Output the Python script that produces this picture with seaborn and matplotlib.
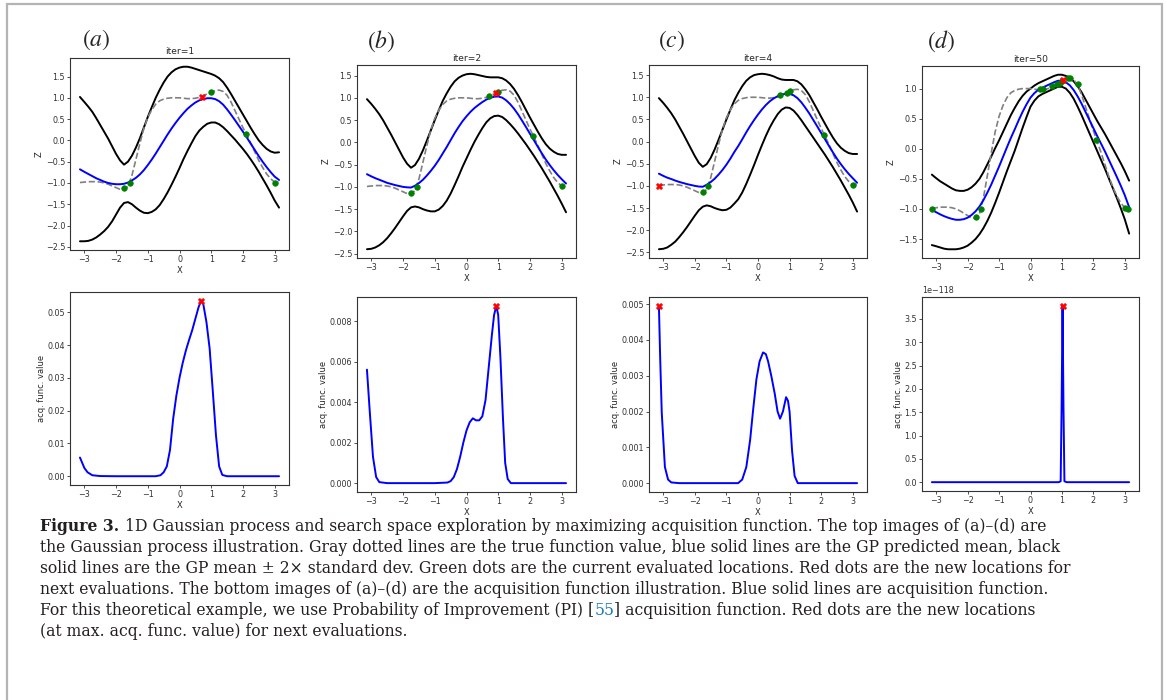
import matplotlib
matplotlib.use("Agg")
import matplotlib.pyplot as plt
import seaborn as sns
from matplotlib.patches import Rectangle
from matplotlib.ticker import MultipleLocator

# ---------------------------------------------------------------- data
# common x grid of the GP panels
x_grid = [-3.14, -3.0, -2.875, -2.75, -2.625, -2.5, -2.375, -2.25, -2.125,
          -2.0, -1.875, -1.75, -1.625, -1.5, -1.375, -1.25, -1.125, -1.0,
          -0.875, -0.75, -0.625, -0.5, -0.375, -0.25, -0.125, 0.0, 0.125,
          0.25, 0.375, 0.5, 0.625, 0.75, 0.875, 1.0, 1.125, 1.25, 1.375, 1.5,
          1.625, 1.75, 1.875, 2.0, 2.125, 2.25, 2.375, 2.5, 2.625, 2.75,
          2.875, 3.0, 3.14]

# true objective (gray dashed)
true_f = [-0.99, -0.98, -0.97, -0.97, -0.97, -0.98, -1.0, -1.03, -1.07, -1.11,
          -1.15, -1.16, -1.08, -0.82, -0.45, -0.07, 0.28, 0.54, 0.72, 0.85,
          0.93, 0.97, 0.99, 1.0, 1.0, 1.0, 0.99, 0.98, 0.98, 0.99, 1.01, 1.05,
          1.09, 1.13, 1.17, 1.18, 1.15, 1.06, 0.9, 0.7, 0.5, 0.3, 0.12, -0.07,
          -0.27, -0.47, -0.64, -0.79, -0.9, -0.98, -0.97]

# iter=1 : posterior mean and mean +/- 2 std
mean_1 = [-0.68, -0.74, -0.79, -0.84, -0.89, -0.93, -0.97, -1.0, -1.02, -1.03,
          -1.03, -1.02, -0.99, -0.94, -0.88, -0.8, -0.7, -0.58, -0.45, -0.31,
          -0.16, -0.01, 0.14, 0.28, 0.41, 0.53, 0.64, 0.74, 0.82, 0.89, 0.94,
          0.97, 0.99, 0.99, 0.97, 0.92, 0.84, 0.73, 0.605, 0.475, 0.34, 0.205,
          0.065, -0.08, -0.225, -0.37, -0.505, -0.63, -0.745, -0.85, -0.93]
upper_1 = [1.02, 0.9, 0.79, 0.67, 0.52, 0.36, 0.2, 0.04, -0.14, -0.32, -0.47,
           -0.57, -0.5, -0.36, -0.17, 0.05, 0.3, 0.55, 0.78, 1.0, 1.19, 1.36,
           1.5, 1.6, 1.67, 1.71, 1.73, 1.73, 1.71, 1.68, 1.65, 1.62, 1.59,
           1.56, 1.52, 1.46, 1.37, 1.24, 1.09, 0.93, 0.77, 0.61, 0.45, 0.29,
           0.14, 0.0, -0.11, -0.2, -0.26, -0.29, -0.28]
lower_1 = [-2.37, -2.37, -2.36, -2.33, -2.28, -2.21, -2.13, -2.03, -1.9, -1.74,
           -1.58, -1.47, -1.45, -1.5, -1.58, -1.65, -1.7, -1.71, -1.68, -1.62,
           -1.52, -1.38, -1.22, -1.04, -0.85, -0.65, -0.44, -0.25, -0.07, 0.1,
           0.23, 0.32, 0.39, 0.42, 0.42, 0.38, 0.31, 0.22, 0.12, 0.02, -0.09,
           -0.2, -0.32, -0.45, -0.59, -0.74, -0.9, -1.06, -1.23, -1.41, -1.58]

# iter=2
mean_2 = [-0.715, -0.765, -0.805, -0.84, -0.875, -0.91, -0.935, -0.96, -0.98,
          -1.0, -1.01, -1.015, -0.975, -0.915, -0.84, -0.745, -0.64, -0.525,
          -0.395, -0.25, -0.105, 0.05, 0.205, 0.345, 0.475, 0.585, 0.685,
          0.77, 0.84, 0.905, 0.96, 1.0, 1.025, 1.03, 1.005, 0.945, 0.86,
          0.755, 0.63, 0.49, 0.345, 0.195, 0.05, -0.1, -0.245, -0.385, -0.51,
          -0.625, -0.73, -0.825, -0.925]
upper_2 = [0.97, 0.86, 0.75, 0.63, 0.49, 0.33, 0.17, 0.0, -0.17, -0.34, -0.48,
           -0.57, -0.51, -0.37, -0.18, 0.04, 0.27, 0.5, 0.72, 0.93, 1.1, 1.25,
           1.37, 1.45, 1.5, 1.53, 1.54, 1.53, 1.51, 1.49, 1.47, 1.46, 1.46,
           1.46, 1.44, 1.39, 1.31, 1.2, 1.06, 0.9, 0.73, 0.56, 0.4, 0.24, 0.09,
           -0.04, -0.14, -0.21, -0.26, -0.28, -0.28]
lower_2 = [-2.4, -2.39, -2.36, -2.31, -2.24, -2.15, -2.04, -1.92, -1.79, -1.66,
           -1.54, -1.46, -1.44, -1.46, -1.5, -1.53, -1.55, -1.55, -1.51, -1.43,
           -1.31, -1.15, -0.96, -0.76, -0.55, -0.36, -0.17, 0.01, 0.17, 0.32,
           0.45, 0.54, 0.59, 0.6, 0.57, 0.5, 0.41, 0.31, 0.2, 0.08, -0.04,
           -0.17, -0.3, -0.44, -0.58, -0.73, -0.88, -1.04, -1.2, -1.37, -1.57]

# iter=4
mean_4 = [-0.725, -0.775, -0.815, -0.845, -0.88, -0.91, -0.935, -0.96, -0.98,
          -1.0, -1.015, -1.02, -0.975, -0.915, -0.84, -0.745, -0.64, -0.52,
          -0.385, -0.235, -0.1, 0.05, 0.205, 0.35, 0.485, 0.61, 0.725, 0.825,
          0.91, 0.975, 1.025, 1.06, 1.08, 1.075, 1.045, 0.98, 0.885, 0.765,
          0.635, 0.49, 0.345, 0.195, 0.05, -0.1, -0.245, -0.385, -0.51,
          -0.625, -0.73, -0.825, -0.93]
upper_4 = [0.98, 0.87, 0.76, 0.64, 0.5, 0.34, 0.18, 0.01, -0.16, -0.33, -0.48,
           -0.57, -0.51, -0.37, -0.18, 0.04, 0.27, 0.5, 0.72, 0.93, 1.1, 1.25,
           1.37, 1.45, 1.5, 1.52, 1.53, 1.52, 1.5, 1.47, 1.43, 1.4, 1.39, 1.39,
           1.39, 1.36, 1.29, 1.18, 1.05, 0.89, 0.73, 0.56, 0.4, 0.24, 0.09,
           -0.04, -0.14, -0.21, -0.26, -0.28, -0.28]
lower_4 = [-2.43, -2.42, -2.39, -2.33, -2.26, -2.16, -2.05, -1.93, -1.8, -1.67,
           -1.55, -1.47, -1.44, -1.46, -1.5, -1.53, -1.55, -1.54, -1.49, -1.4,
           -1.3, -1.15, -0.96, -0.75, -0.53, -0.3, -0.08, 0.13, 0.32, 0.48,
           0.62, 0.72, 0.77, 0.76, 0.7, 0.6, 0.48, 0.35, 0.22, 0.09, -0.04,
           -0.17, -0.3, -0.44, -0.58, -0.73, -0.88, -1.04, -1.2, -1.37, -1.58]

# iter=50
mean_50 = [-1.015, -1.055, -1.09, -1.12, -1.145, -1.165, -1.18, -1.18, -1.17,
           -1.145, -1.1, -1.04, -0.96, -0.855, -0.73, -0.595, -0.445, -0.295,
           -0.135, 0.025, 0.18, 0.325, 0.475, 0.615, 0.74, 0.85, 0.925, 0.98,
           1.015, 1.045, 1.075, 1.105, 1.13, 1.13, 1.105, 1.055, 0.975, 0.87,
           0.75, 0.615, 0.48, 0.345, 0.21, 0.08, -0.05, -0.19, -0.33, -0.47,
           -0.615, -0.77, -0.97]
upper_50 = [-0.43, -0.49, -0.54, -0.58, -0.62, -0.66, -0.69, -0.7, -0.7, -0.68,
            -0.64, -0.58, -0.5, -0.39, -0.26, -0.13, 0.01, 0.14, 0.28, 0.42,
            0.56, 0.68, 0.79, 0.88, 0.95, 1.0, 1.05, 1.09, 1.12, 1.15, 1.18,
            1.21, 1.23, 1.23, 1.21, 1.18, 1.12, 1.04, 0.94, 0.82, 0.7, 0.58,
            0.46, 0.35, 0.24, 0.12, 0.0, -0.12, -0.24, -0.37, -0.53]
lower_50 = [-1.6, -1.62, -1.64, -1.66, -1.67, -1.67, -1.67, -1.66, -1.64,
            -1.61, -1.56, -1.5, -1.42, -1.32, -1.2, -1.06, -0.9, -0.73, -0.55,
            -0.37, -0.2, -0.03, 0.16, 0.35, 0.53, 0.7, 0.8, 0.87, 0.91, 0.94,
            0.97, 1.0, 1.03, 1.03, 1.0, 0.93, 0.83, 0.7, 0.56, 0.41, 0.26,
            0.11, -0.04, -0.19, -0.34, -0.5, -0.66, -0.82, -0.99, -1.17, -1.41]

# evaluated locations (green) and next location (red)
obs_x_1 = [-1.75, -1.57, 1.0, 2.1, 3.0]
obs_y_1 = [-1.13, -1.0, 1.13, 0.15, -0.99]
obs_x_2 = [-1.75, -1.57, 0.7, 1.0, 2.1, 3.0]
obs_y_2 = [-1.13, -1.0, 1.04, 1.13, 0.15, -0.99]
obs_x_4 = [-1.75, -1.57, 0.7, 0.93, 1.0, 2.1, 3.0]
obs_y_4 = [-1.13, -1.0, 1.04, 1.1, 1.13, 0.15, -0.99]
obs_x_50 = [-3.14, -1.75, -1.57, 0.3, 0.4, 0.7, 0.85, 0.93, 1.0, 1.2, 1.25,
            1.5, 2.1, 3.0, 3.1]
obs_y_50 = [-1.0, -1.13, -1.0, 0.99, 0.99, 1.04, 1.07, 1.1, 1.13, 1.17, 1.17,
            1.08, 0.15, -0.99, -1.0]
next_x = [0.7, 0.93, -3.14, 1.02]
next_z = [1.03, 1.1, -1.0, 1.15]

# acquisition function (probability of improvement)
acq_x_1 = [-3.14, -3.0, -2.9, -2.75, -2.5, -2.0, -1.5, -1.0, -0.75, -0.6, -0.5,
           -0.4, -0.3, -0.2, -0.1, 0.0, 0.1, 0.2, 0.3, 0.4, 0.5, 0.6, 0.68,
           0.75, 0.85, 0.95, 1.05, 1.15, 1.25, 1.35, 1.5, 2.0, 2.5, 3.0, 3.14]
acq_1 = [0.0057, 0.0025, 0.0012, 0.0003, 0.00005, 0.0, 0.0, 0.0, 0.0, 0.0003,
         0.0012, 0.003, 0.008, 0.0175, 0.0245, 0.030, 0.0345, 0.0383, 0.0415,
         0.0445, 0.048, 0.0515, 0.0535, 0.0525, 0.047, 0.039, 0.026, 0.0125,
         0.003, 0.0004, 0.0, 0.0, 0.0, 0.0, 0.0]
acq_x_2 = [-3.14, -3.05, -2.95, -2.85, -2.75, -2.5, -2.0, -1.5, -1.0, -0.6,
           -0.5, -0.4, -0.3, -0.2, -0.1, 0.0, 0.1, 0.2, 0.3, 0.4, 0.5, 0.6,
           0.7, 0.8, 0.87, 0.94, 1.0, 1.07, 1.15, 1.22, 1.3, 1.4, 2.0, 2.5,
           3.0, 3.14]
acq_2 = [0.0056, 0.0035, 0.0013, 0.0003, 0.00005, 0.0, 0.0, 0.0, 0.0, 0.00003,
         0.0001, 0.0003, 0.0007, 0.0013, 0.002, 0.0026, 0.003, 0.0032, 0.0031,
         0.0031, 0.0033, 0.0041, 0.0057, 0.0073, 0.0083, 0.00875, 0.0083,
         0.0062, 0.0032, 0.001, 0.0002, 0.0, 0.0, 0.0, 0.0, 0.0]
acq_x_4 = [-3.14, -3.1, -3.05, -2.95, -2.85, -2.75, -2.5, -2.0, -1.5, -1.0,
           -0.63, -0.5, -0.37, -0.25, -0.16, -0.05, 0.05, 0.16, 0.25, 0.32,
           0.42, 0.53, 0.62, 0.7, 0.79, 0.89, 0.95, 1.0, 1.08, 1.16, 1.26, 1.4,
           2.0, 2.5, 3.0, 3.14]
acq_4 = [0.00495, 0.0035, 0.00197, 0.00045, 0.0001, 0.00002, 0.0, 0.0, 0.0,
         0.0, 0.0, 0.0001, 0.00045, 0.0012, 0.002, 0.0029, 0.0034, 0.00365,
         0.0036, 0.0034, 0.003, 0.0025, 0.002, 0.0018, 0.002, 0.0024, 0.0023,
         0.002, 0.0009, 0.0002, 0.0, 0.0, 0.0, 0.0, 0.0, 0.0]
acq_x_50 = [-3.14, -2.0, -1.0, 0.0, 0.9, 0.96, 0.99, 1.02, 1.05, 1.08, 1.15,
            2.0, 3.14]
acq_50 = [0.0, 0.0, 0.0, 0.0, 0.0, 0.02e-118, 1.6e-118, 3.78e-118, 1.6e-118,
          0.02e-118, 0.0, 0.0, 0.0]
next_acq = [0.0535, 0.00875, 0.00495, 3.78e-118]
next_acq_x = [0.68, 0.94, -3.14, 1.02]

iters = ["iter=1", "iter=2", "iter=4", "iter=50"]

# ---------------------------------------------------------------- style
sns.set_theme(style="ticks")
plt.rcParams.update({
    "font.family": ["DejaVu Sans"],
    "axes.edgecolor": "#333333",
    "axes.linewidth": 0.8,
    "xtick.labelsize": 5.8,
    "ytick.labelsize": 5.8,
    "xtick.major.size": 2.0,
    "ytick.major.size": 2.0,
    "xtick.major.width": 0.6,
    "ytick.major.width": 0.6,
    "xtick.major.pad": 1.5,
    "ytick.major.pad": 1.5,
    "xtick.color": "#333333",
    "ytick.color": "#333333",
    "axes.labelsize": 6.0,
    "axes.labelpad": 1.2,
    "axes.titlesize": 6.6,
    "axes.titlepad": 3,
    "mathtext.fontset": "stix",
})

W, H = 1167, 700
fig = plt.figure(figsize=(W / 100, H / 100), dpi=100)


def px_axes(left, top, right, bottom):
    return fig.add_axes([left / W, 1 - bottom / H, (right - left) / W,
                         (bottom - top) / H])


top_boxes = [(70, 58, 289, 250), (357, 65, 576, 258), (649, 65, 867, 258),
             (922, 66, 1139, 258)]
bot_boxes = [(70, 292, 289, 485), (357, 297, 576, 492), (649, 297, 867, 492),
             (922, 297, 1139, 491)]
tag_pos = [(96, 40), (381, 41), (672, 41), (941, 41)]

means = [mean_1, mean_2, mean_4, mean_50]
uppers = [upper_1, upper_2, upper_4, upper_50]
lowers = [lower_1, lower_2, lower_4, lower_50]
obs_xs = [obs_x_1, obs_x_2, obs_x_4, obs_x_50]
obs_ys = [obs_y_1, obs_y_2, obs_y_4, obs_y_50]
acq_xs = [acq_x_1, acq_x_2, acq_x_4, acq_x_50]
acqs = [acq_1, acq_2, acq_4, acq_50]
acq_steps = [0.01, 0.002, 0.001, 0.5e-118]

LW = 1.4
for i in range(4):
    # --- GP posterior
    ax = px_axes(*top_boxes[i])
    sns.lineplot(x=x_grid, y=uppers[i], ax=ax, color="black", linewidth=LW,
                 estimator=None, sort=False)
    sns.lineplot(x=x_grid, y=lowers[i], ax=ax, color="black", linewidth=LW,
                 estimator=None, sort=False)
    sns.lineplot(x=x_grid, y=true_f, ax=ax, color="gray", linewidth=1.2,
                 linestyle="--", estimator=None, sort=False)
    sns.lineplot(x=x_grid, y=means[i], ax=ax, color="blue", linewidth=LW,
                 estimator=None, sort=False)
    sns.scatterplot(x=obs_xs[i], y=obs_ys[i], ax=ax, color="green", s=16,
                    edgecolor="green", linewidth=0.5, zorder=5)
    sns.scatterplot(x=[next_x[i]], y=[next_z[i]], ax=ax, color="red",
                    marker="X", s=22, edgecolor="red", linewidth=0.3, zorder=6)
    ax.set_title(iters[i])
    ax.set_xlabel("X")
    ax.set_ylabel("Z")
    ax.xaxis.set_major_locator(MultipleLocator(1))
    ax.yaxis.set_major_locator(MultipleLocator(0.5))
    fig.text(tag_pos[i][0] / W, 1 - tag_pos[i][1] / H,
             r"$(\mathit{" + "abcd"[i] + r"})$", fontsize=17,
             ha="center", va="center")

    # --- acquisition function
    bx = px_axes(*bot_boxes[i])
    sns.lineplot(x=acq_xs[i], y=acqs[i], ax=bx, color="blue", linewidth=LW,
                 estimator=None, sort=False)
    sns.scatterplot(x=[next_acq_x[i]], y=[next_acq[i]], ax=bx, color="red",
                    marker="X", s=22, edgecolor="red", linewidth=0.3, zorder=6)
    bx.set_xlabel("X")
    bx.set_ylabel("acq. func. value")
    bx.xaxis.set_major_locator(MultipleLocator(1))
    bx.yaxis.set_major_locator(MultipleLocator(acq_steps[i]))

# ---------------------------------------------------------------- caption
SERIF = "DejaVu Serif"
renderer = fig.canvas.get_renderer()


def text_width(s, size, weight="normal"):
    t = fig.text(0, 0, s, fontsize=size, family=SERIF, weight=weight)
    w = t.get_window_extent(renderer).width
    t.remove()
    return w


lines = [
    "1D Gaussian process and search space exploration by maximizing "
    "acquisition function. The top images of (a)\u2013(d) are",
    "the Gaussian process illustration. Gray dotted lines are the true "
    "function value, blue solid lines are the GP predicted mean, black",
    "solid lines are the GP mean \u00b1 2\u00d7 standard dev. Green dots are "
    "the current evaluated locations. Red dots are the new locations for",
    "next evaluations. The bottom images of (a)\u2013(d) are the acquisition "
    "function illustration. Blue solid lines are acquisition function.",
    None,
    "(at max. acq. func. value) for next evaluations.",
]
x0 = 40
size = 10.0
for _ in range(4):  # fit the widest line to the text block width
    size = size * (1074 - x0) / text_width(lines[2], size)
baselines = [531, 552, 573, 594, 615, 636]


def put(x, y, s, color="#231f20", weight="normal"):
    fig.text(x / W, 1 - y / H, s, fontsize=size, family=SERIF, color=color,
             weight=weight, ha="left", va="baseline")


# first line: bold figure number then regular text
bold = "Figure 3."
put(x0, baselines[0], bold, weight="bold")
put(x0 + text_width(bold, size, "bold") + 0.32 * size * 100 / 72 + 1,
    baselines[0], lines[0])
for k in (1, 2, 3, 5):
    put(x0, baselines[k], lines[k])

# fifth line with the blue citation number
head = "For this theoretical example, we use Probability of Improvement (PI) ["
cite = "55"
tail = "] acquisition function. Red dots are the new locations"
put(x0, baselines[4], head)
xc = x0 + text_width(head + cite, size) - text_width(cite, size)
put(xc, baselines[4], cite, color="#1f7ab8")
xt = x0 + text_width(head + cite + tail, size) - text_width(tail, size)
put(xt, baselines[4], tail)

# light frame around the figure block
fig.add_artist(Rectangle((7 / W, -0.05), (1162 - 7) / W, 1.05 - 4 / H,
                         transform=fig.transFigure, fill=False,
                         edgecolor="#b4b4b4", linewidth=1.6))

fig.savefig("out.png", dpi=100, facecolor="white")
